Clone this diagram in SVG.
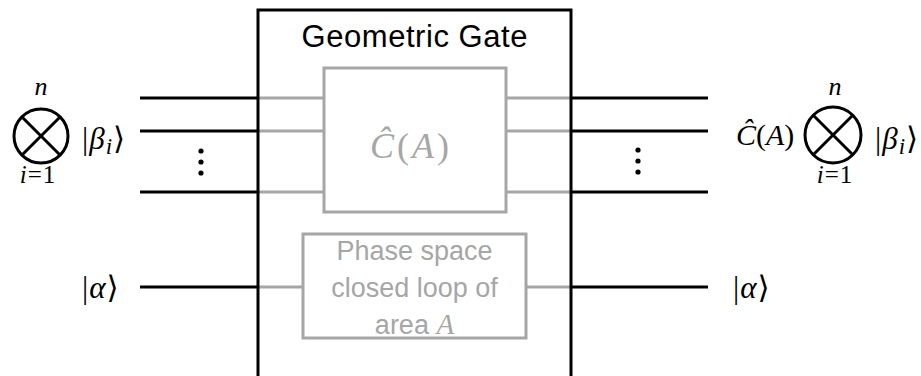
<svg xmlns="http://www.w3.org/2000/svg" width="921" height="376" viewBox="0 0 921 376">
<style>
.blk{stroke:#000;stroke-width:3;fill:none}
.gry{stroke:#a6a6a6;stroke-width:3;fill:none}
.sans{font-family:"Liberation Sans","DejaVu Sans",sans-serif}
.math{font-family:"Liberation Serif","DejaVu Serif",serif}
.it{font-style:italic}
.gtxt{fill:#a6a6a6}
</style>
<rect width="921" height="376" fill="#fff"/>
<g id="connectors">
  <line class="blk" x1="140" y1="98" x2="258" y2="98"/>
  <line class="blk" x1="140" y1="131" x2="258" y2="131"/>
  <line class="blk" x1="140" y1="192" x2="258" y2="192"/>
  <line class="blk" x1="140" y1="287" x2="258" y2="287"/>
  <line class="gry" x1="258" y1="98" x2="324" y2="98"/>
  <line class="gry" x1="258" y1="131" x2="324" y2="131"/>
  <line class="gry" x1="258" y1="192" x2="324" y2="192"/>
  <line class="gry" x1="258" y1="287" x2="303" y2="287"/>
  <line class="gry" x1="506" y1="98" x2="571" y2="98"/>
  <line class="gry" x1="506" y1="131" x2="571" y2="131"/>
  <line class="gry" x1="506" y1="192" x2="571" y2="192"/>
  <line class="gry" x1="526" y1="287" x2="571" y2="287"/>
  <line class="blk" x1="571" y1="98" x2="708" y2="98"/>
  <line class="blk" x1="571" y1="131" x2="708" y2="131"/>
  <line class="blk" x1="571" y1="192" x2="708" y2="192"/>
  <line class="blk" x1="571" y1="287" x2="708" y2="287"/>
  <circle cx="201" cy="151" r="2.6"/>
  <circle cx="201" cy="162" r="2.6"/>
  <circle cx="201" cy="173" r="2.6"/>
  <circle cx="638" cy="150" r="2.6"/>
  <circle cx="638" cy="161" r="2.6"/>
  <circle cx="638" cy="172" r="2.6"/>
</g>
<g id="gate">
  <rect class="blk" x="258" y="10" width="313" height="380"/>
  <text class="sans" x="414.5" y="47" font-size="31" text-anchor="middle" textLength="226" lengthAdjust="spacing">Geometric Gate</text>
</g>
<g id="cbox">
  <rect class="gry" x="324" y="68" width="182" height="144"/>
  <text class="math gtxt" x="411" y="158" font-size="36" text-anchor="middle" letter-spacing="3"><tspan class="it">Ĉ</tspan>(<tspan class="it">A</tspan>)</text>
</g>
<g id="phase">
  <rect class="gry" x="303" y="234" width="223" height="104"/>
  <text class="sans gtxt" x="414.5" y="260" font-size="27" text-anchor="middle">Phase space</text>
  <text class="sans gtxt" x="414.5" y="297" font-size="27" text-anchor="middle">closed loop of</text>
  <text class="sans gtxt" x="414.5" y="334" font-size="27" text-anchor="middle">area <tspan class="math it" font-size="29">A</tspan></text>
</g>
<g id="input-beta">
  <circle class="blk" cx="41" cy="136" r="27"/>
  <line class="blk" x1="22" y1="117" x2="60" y2="155"/>
  <line class="blk" x1="60" y1="117" x2="22" y2="155"/>
  <text class="math it" x="41" y="95" font-size="26" text-anchor="middle">n</text>
  <text class="math" x="38" y="183" font-size="25" text-anchor="middle" letter-spacing="1"><tspan class="it">i</tspan>=1</text>
  <text class="math" x="82" y="149" font-size="31" letter-spacing="1">|<tspan class="it">β</tspan><tspan class="it" font-size="23" dy="5">i</tspan><tspan dy="-5">⟩</tspan></text>
</g>
<g id="input-alpha">
  <text class="math" x="82" y="298" font-size="31" letter-spacing="1">|<tspan class="it">α</tspan>⟩</text>
</g>
<g id="output-beta">
  <text class="math" x="736" y="145" font-size="30"><tspan class="it">Ĉ</tspan>(<tspan class="it">A</tspan>)</text>
  <circle class="blk" cx="833" cy="135" r="28"/>
  <line class="blk" x1="813" y1="115" x2="853" y2="155"/>
  <line class="blk" x1="853" y1="115" x2="813" y2="155"/>
  <text class="math it" x="835" y="95" font-size="26" text-anchor="middle">n</text>
  <text class="math" x="835" y="183" font-size="25" text-anchor="middle" letter-spacing="1"><tspan class="it">i</tspan>=1</text>
  <text class="math" x="875" y="149" font-size="31" letter-spacing="1">|<tspan class="it">β</tspan><tspan class="it" font-size="23" dy="5">i</tspan><tspan dy="-5">⟩</tspan></text>
</g>
<g id="output-alpha">
  <text class="math" x="733" y="298" font-size="31" letter-spacing="1">|<tspan class="it">α</tspan>⟩</text>
</g>
</svg>
